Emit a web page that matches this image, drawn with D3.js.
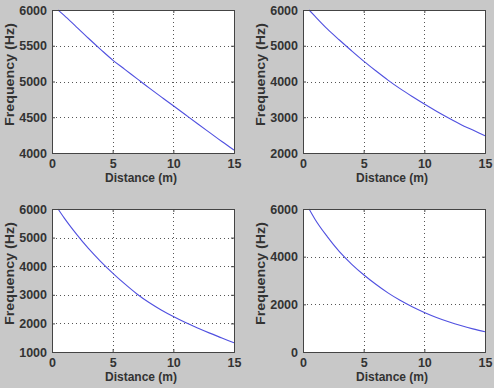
<!DOCTYPE html>
<html>
<head>
<meta charset="utf-8">
<script src="https://cdn.jsdelivr.net/npm/d3@7"></script>
<style>
  body { margin:0; background:#c8c8c8; }
  svg { display:block; }
  text { font-family:"Liberation Sans", Arial, sans-serif; fill:#333; }
</style>
</head>
<body>
<svg width="494" height="388"></svg>
<script>
var distance = [0.5, 1, 2, 3, 4, 5, 6, 7, 8, 9, 10, 11, 12, 13, 14, 15];
var freqA = [6000, 5925, 5765, 5605, 5450, 5300, 5170, 5040, 4910, 4785, 4660, 4535, 4410, 4285, 4160, 4040];
var freqB = [6000, 5820, 5470, 5160, 4860, 4570, 4300, 4040, 3800, 3580, 3370, 3170, 2980, 2800, 2640, 2480];
var freqC = [6000, 5690, 5130, 4620, 4170, 3760, 3380, 3030, 2730, 2470, 2240, 2030, 1840, 1660, 1490, 1320];
var freqD = [6000, 5560, 4840, 4210, 3690, 3240, 2840, 2480, 2170, 1900, 1660, 1450, 1270, 1110, 970, 850];

var xTicks = [0, 5, 10, 15];
var yTicksA = [4000, 4500, 5000, 5500, 6000];
var yTicksB = [2000, 3000, 4000, 5000, 6000];
var yTicksC = [1000, 2000, 3000, 4000, 5000, 6000];
var yTicksD = [0, 2000, 4000, 6000];

var xLabel = "Distance (m)", yLabel = "Frequency (Hz)";

var svg = d3.select("svg");

// one entry per subplot: box left/top and its data
var panels = [
  {x:52,  y:10,  vals:freqA, ticks:yTicksA},
  {x:303, y:10,  vals:freqB, ticks:yTicksB},
  {x:52,  y:209, vals:freqC, ticks:yTicksC},
  {x:303, y:209, vals:freqD, ticks:yTicksD}
];
var w = 182, h = 143;

panels.forEach(function(p){
  var g = svg.append("g").attr("transform","translate("+p.x+","+p.y+")");
  var x = d3.scaleLinear().domain([0,15]).range([0,w]);
  var y = d3.scaleLinear().domain(d3.extent(p.ticks)).range([h,0]);

  g.append("rect").attr("width",w).attr("height",h).style("fill","#fff");

  // dotted grid
  g.selectAll(".gx").data(xTicks.slice(1,-1)).enter().append("line")
    .attr("x1",function(d){ return Math.round(x(d))+0.5;})
    .attr("x2",function(d){ return Math.round(x(d))+0.5;})
    .attr("y1",0).attr("y2",h)
    .style("stroke","#555").style("stroke-dasharray","1,3");
  g.selectAll(".gy").data(p.ticks.slice(1,-1)).enter().append("line")
    .attr("y1",function(d){ return Math.round(y(d))+0.5;})
    .attr("y2",function(d){ return Math.round(y(d))+0.5;})
    .attr("x1",0).attr("x2",w)
    .style("stroke","#555").style("stroke-dasharray","1,3");

  var line = d3.line().curve(d3.curveMonotoneX)
    .x(function(d,k){ return x(distance[k]);}).y(function(d){ return y(d);});
  g.append("path").datum(p.vals).attr("d",line)
    .style("fill","none").style("stroke","#5050e0").style("stroke-width",1.1);

  // axes, ticks pointing inwards
  var ax = d3.axisBottom(x).tickValues(xTicks).tickSize(-3).tickFormat(d3.format("d"));
  var ay = d3.axisLeft(y).tickValues(p.ticks).tickSize(-3).tickFormat(d3.format("d"));
  var gx = g.append("g").attr("transform","translate(0,"+h+")").call(ax);
  var gy = g.append("g").call(ay);
  g.append("g").call(d3.axisTop(x).tickValues(xTicks).tickSize(-3).tickFormat(""));
  g.append("g").attr("transform","translate("+w+",0)").call(d3.axisRight(y).tickValues(p.ticks).tickSize(-3).tickFormat(""));
  g.selectAll(".domain").style("stroke","#444");
  g.selectAll(".tick line").style("stroke","#444");
  g.selectAll(".tick text").style("font-size","12.5px").style("font-weight","bold")
    .style("fill","#333").style("font-family","Liberation Sans, Arial, sans-serif");
  gy.selectAll(".tick text").attr("x",-5);
  gx.selectAll(".tick text").attr("y",6);

  g.append("text").attr("x",w/2-2).attr("y",h+29).attr("text-anchor","middle")
    .style("font-size","12px").style("font-weight","bold").text(xLabel);
  g.append("text").attr("transform","translate(-38,"+(h/2-7)+") rotate(-90)")
    .attr("text-anchor","middle").attr("textLength",103).attr("lengthAdjust","spacingAndGlyphs")
    .style("font-size","12.5px").style("font-weight","bold").text(yLabel);
});
</script>
</body>
</html>
